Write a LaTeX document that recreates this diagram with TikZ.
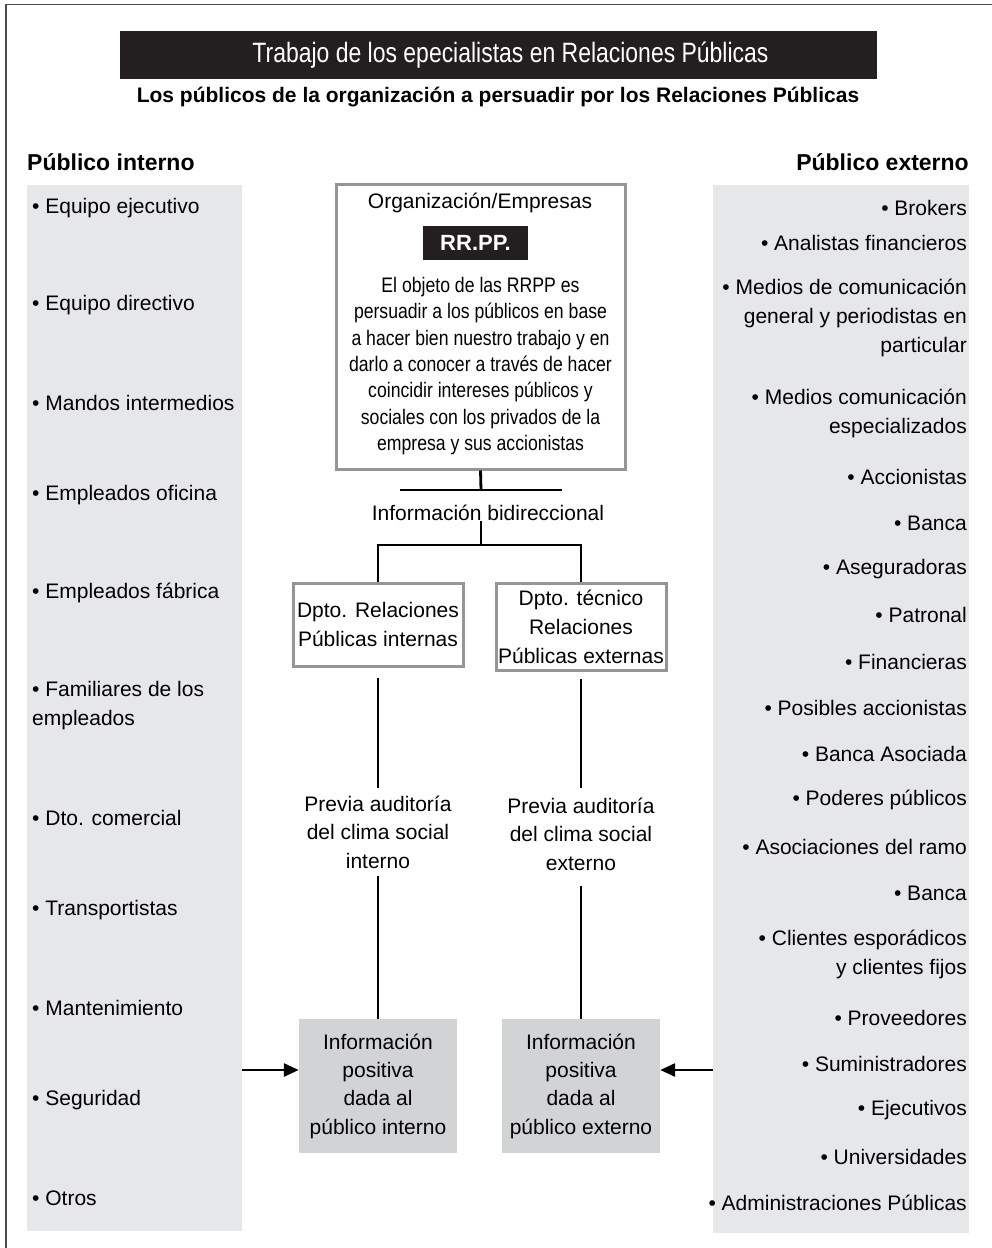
\documentclass[tikz,border=0pt]{standalone}
\usepackage{fontspec}
\setmainfont{Liberation Sans}
\newfontfamily\titlefont[FakeStretch=0.82]{Liberation Sans}
\newfontfamily\parafont[FakeStretch=0.84]{Liberation Sans}
\usetikzlibrary{arrows.meta}
\definecolor{barblack}{HTML}{231F20}
\definecolor{panelgray}{HTML}{E6E7E8}
\definecolor{infogray}{HTML}{D1D3D4}
\definecolor{boxline}{HTML}{939598}
\definecolor{framegray}{HTML}{4D4D4D}
\tikzset{
  txt/.style={inner sep=0pt, font=\fontsize{21}{29}\selectfont},
  lst/.style={txt, align=left, anchor=west},
  rst/.style={txt, align=right, anchor=east},
  head/.style={inner sep=0pt, font=\fontsize{23}{28}\selectfont\bfseries},
  panel/.style={fill=panelgray, inner sep=0pt, anchor=north west},
  outline/.style={draw=boxline, line width=3pt, fill=white, inner sep=0pt},
  infobox/.style={fill=infogray, inner sep=0pt, align=center,
    minimum width=158pt, minimum height=134pt,
    font=\fontsize{21}{28.3}\selectfont},
  conn/.style={draw=black, line width=2.8pt},
  arr/.style={conn, -{Triangle[length=15pt,width=13pt]}}
}
\begin{document}
\begin{tikzpicture}[x=1pt,y=-1pt]
\useasboundingbox (0,0) rectangle (992,1248);

% outer frame (top and left edges)
\draw[framegray, line width=1.6pt] (6,1248) -- (6,4.5) -- (992,4.5);

% title bar and subtitle
\node[fill=barblack, minimum width=757pt, minimum height=48pt, inner sep=0pt,
      anchor=north west] (bar) at (120,31) {};
\node[text=white, inner sep=0pt, font=\titlefont\fontsize{28}{32}\selectfont]
      (title) at (510.5,55) {Trabajo de los epecialistas en Relaciones Públicas};
\node[inner sep=0pt, font=\fontsize{21}{25}\bfseries\selectfont] (sub) at (498,97)
      {Los públicos de la organización a persuadir por los Relaciones Públicas};

% column headings
\node[head, anchor=west] (hI) at (27,162) {Público interno};
\node[head, anchor=east] (hE) at (969,162) {Público externo};

% side panels
\node[panel, minimum width=215pt, minimum height=1046pt] (pI) at (27,185) {};
\node[panel, minimum width=256pt, minimum height=1048pt] (pE) at (713,185) {};

% internal public
\node[lst] (i1) at (32,208) {• Equipo ejecutivo};
\node[lst] (i2) at (32,305) {• Equipo directivo};
\node[lst] (i3) at (32,403) {• Mandos intermedios};
\node[lst] (i4) at (32,495) {• Empleados oficina};
\node[lst] (i5) at (32,593) {• Empleados fábrica};
\node[lst] (i6) at (32,705.5) {• Familiares de los\\empleados};
\node[lst] (i7) at (32,818) {• Dto. comercial};
\node[lst] (i8) at (32,910) {• Transportistas};
\node[lst] (i9) at (32,1008) {• Mantenimiento};
\node[lst] (i10) at (32,1100) {• Seguridad};
\node[lst] (i11) at (32,1198) {• Otros};

% external public
\node[rst] (e1) at (967,208) {• Brokers};
\node[rst] (e2) at (967,243) {• Analistas financieros};
\node[rst] (e3) at (967,318) {• Medios de comunicación\\general y periodistas en\\particular};
\node[rst] (e4) at (967,413.5) {• Medios comunicación\\especializados};
\node[rst] (e5) at (967,477) {• Accionistas};
\node[rst] (e6) at (967,523) {• Banca};
\node[rst] (e7) at (967,569) {• Aseguradoras};
\node[rst] (e8) at (967,615) {• Patronal};
\node[rst] (e9) at (967,662) {• Financieras};
\node[rst] (e10) at (967,708) {• Posibles accionistas};
\node[rst] (e11) at (967,754) {• Banca Asociada};
\node[rst] (e12) at (967,800) {• Poderes públicos};
\node[rst] (e13) at (967,847) {• Asociaciones del ramo};
\node[rst] (e14) at (967,893) {• Banca};
\node[rst] (e15) at (967,954.5) {• Clientes esporádicos\\y clientes fijos};
\node[rst] (e16) at (967,1018) {• Proveedores};
\node[rst] (e17) at (967,1064) {• Suministradores};
\node[rst] (e18) at (967,1110) {• Ejecutivos};
\node[rst] (e19) at (967,1157) {• Universidades};
\node[rst] (e20) at (967,1203) {• Administraciones Públicas};

% organisation box
\node[outline, minimum width=289pt, minimum height=285pt] (org) at (480.5,326.5) {};
\node[txt] (orgname) at (480,203) {Organización/Empresas};
\node[fill=barblack, text=white, inner sep=0pt, minimum width=105pt, minimum height=34pt,
      font=\fontsize{22}{26}\bfseries\selectfont] (rrpp) at (475.5,243) {RR.PP.};
\node[inner sep=0pt, align=center, font=\parafont\fontsize{21}{26.3}\selectfont] (obj) at (480.5,366)
  {El objeto de las RRPP es\\persuadir a los públicos en base\\a hacer bien nuestro trabajo y en\\darlo a conocer a través de hacer\\coincidir intereses públicos y\\sociales con los privados de la\\empresa y sus accionistas};

% bidirectional information
\coordinate (bar1) at (481,490);
\coordinate (bar1w) at (400,490);
\coordinate (bar1e) at (562,490);
\node[txt] (bidir) at (488,513) {Información bidireccional};
\coordinate (bar2) at (481,545);

% departments
\node[outline, minimum width=170pt, minimum height=83pt, align=center,
      font=\fontsize{21}{29}\selectfont] (dptI) at (378,624.5)
      {Dpto. Relaciones\\Públicas internas};
\node[outline, minimum width=170pt, minimum height=87pt, align=center,
      font=\fontsize{21}{29}\selectfont] (dptE) at (581,626.5)
      {Dpto. técnico\\Relaciones\\Públicas externas};

% audits
\node[txt, align=center, font=\fontsize{21}{28.5}\selectfont] (audI) at (378,832)
      {Previa auditoría\\del clima social\\interno};
\node[txt, align=center, font=\fontsize{21}{28.5}\selectfont] (audE) at (581,834)
      {Previa auditoría\\del clima social\\externo};

% positive information boxes
\node[infobox] (infoI) at (378,1086) {Información\\positiva\\dada al\\público interno};
\node[infobox] (infoE) at (581,1086) {Información\\positiva\\dada al\\público externo};

% connectors
\draw[conn] (org.south) -- (bar1);
\draw[conn] (bar1w) -- (bar1e);
\draw[conn] (bidir.south -| bar2) -- (bar2);
\draw[conn] (dptI.north) |- (bar2) -| (dptE.north);
\draw[conn, shorten <=10pt, shorten >=7pt] (dptI.south) -- (audI.north);
\draw[conn, shorten <=7pt, shorten >=9pt] (dptE.south) -- (audE.north);
\draw[conn, shorten <=7pt] (audI.south) -- (infoI.north);
\draw[conn, shorten <=15pt] (audE.south) -- (infoE.north);

\coordinate (aI) at ([yshift=16pt]infoI.west);
\coordinate (aE) at ([yshift=16pt]infoE.east);
\draw[arr] (aI -| pI.east) -- (aI);
\draw[arr] (aE -| pE.west) -- (aE);
\end{tikzpicture}
\end{document}
